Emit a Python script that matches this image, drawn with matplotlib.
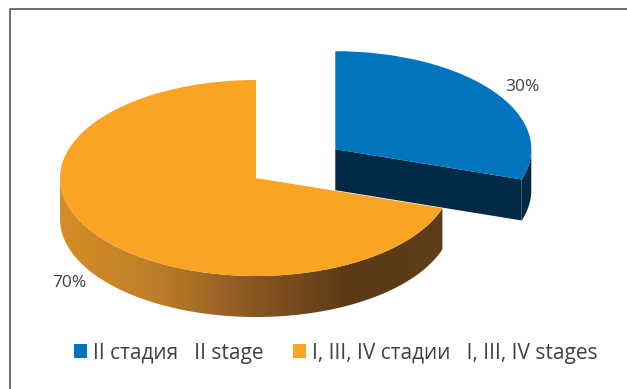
import matplotlib.pyplot as plt
import numpy as np
from matplotlib.colors import LinearSegmentedColormap
from matplotlib.lines import Line2D
from matplotlib.patches import Polygon

plt.rcParams['font.family'] = ['Open Sans', 'DejaVu Sans']

stages = ['II стадия   II stage', 'I, III, IV стадии   I, III, IV stages']
shares = [30, 70]
colors = ['#0075BE', '#F9A423']
side_blue = '#012A47'
side_orange = ['#D68D26', '#BE7E29', '#8A5723', '#5C3A17', '#5E3D18']

W, H = 627, 389
# ellipse of the pie in pixels
cx, cy = 256, 178
rx, ry = 196, 98
depth = 41 / ry

fig = plt.figure(figsize=(W / 100, H / 100), dpi=100)
ax = fig.add_axes([0, 0, 1, 1])

wedges, _ = ax.pie(shares, colors=colors, explode=[0.5, 0], startangle=90,
                   counterclock=False, wedgeprops={'linewidth': 0, 'zorder': 5})


def rim(wedge, a1, a2):
    t = np.radians(np.linspace(a1, a2, 100))
    x = wedge.center[0] + wedge.r * np.cos(t)
    y = wedge.center[1] + wedge.r * np.sin(t)
    top = np.column_stack([x, y])
    low = np.column_stack([x, y - depth])
    return np.vstack([top, low[::-1]])


# blue slice: cut face and a bit of the outer wall
blue, orange = wedges
edge = np.radians(blue.theta1)
ex = blue.center[0] + np.cos(edge)
ey = blue.center[1] + np.sin(edge)
bx, by = blue.center
ax.add_patch(Polygon([(bx, by), (ex, ey), (ex, ey - depth), (bx, by - depth)],
                     fc=side_blue, ec='none', zorder=2))
ax.add_patch(Polygon(rim(blue, blue.theta1, 0), fc=side_blue, ec='none', zorder=2))

# orange wall with the shading from left to right
xlim = (-cx / rx, (W - cx) / rx)
ylim = ((cy - H) / ry, cy / ry)
wall = Polygon(rim(orange, -180, orange.theta2), fc='none', ec='none', zorder=3)
ax.add_patch(wall)
cmap = LinearSegmentedColormap.from_list('side', side_orange)
img = ax.imshow(np.linspace(0, 1, 256).reshape(1, -1), cmap=cmap, aspect='auto',
                extent=(-1, orange.center[0] + np.cos(np.radians(orange.theta2)), -2, 1),
                zorder=3)
img.set_clip_path(wall)

ax.set_aspect('auto')
ax.set_xlim(xlim)
ax.set_ylim(ylim)
ax.axis('off')

fig.text(522 / W, 1 - 87 / H, f'{shares[0]}%', color='#404040', fontsize=12.5,
         ha='center', va='center')
fig.text(69 / W, 1 - 283 / H, f'{shares[1]}%', color='#404040', fontsize=12.5,
         ha='center', va='center')

ax.legend(wedges, stages, loc='center', bbox_to_anchor=(336 / W, 1 - 353 / H),
          bbox_transform=fig.transFigure, ncol=2, frameon=False, fontsize=15,
          labelcolor='#404040', handlelength=0.62, handleheight=0.62,
          handletextpad=0.29, columnspacing=1.4, borderpad=0)

# frame, open to the right and bottom
fig.add_artist(Line2D([10 / W, 10 / W, 1], [0, 1 - 9 / H, 1 - 9 / H],
                      color='#555555', lw=1.2))

fig.savefig('out.png', dpi=100)
